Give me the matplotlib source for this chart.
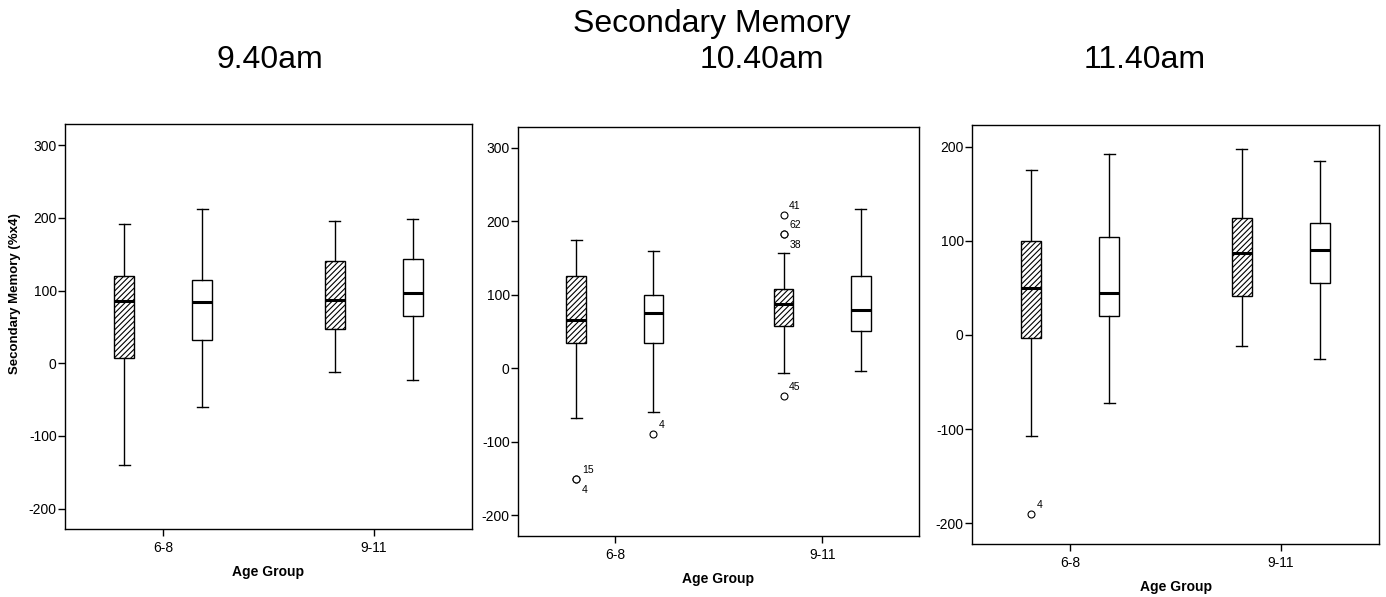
import matplotlib
matplotlib.use("Agg")
import matplotlib.pyplot as plt

plt.rcParams["font.family"] = ["Liberation Sans", "DejaVu Sans"]
plt.rcParams["hatch.linewidth"] = 0.8
plt.rcParams["axes.unicode_minus"] = False

# data: five-number summaries [whislo, q1, median, q3, whishi] per age group
groups = ["6-8", "9-11"]
times = ["9.40am", "10.40am", "11.40am"]

s940_hatched = [[-140, 7, 86, 120, 192], [-12, 47, 87, 140, 196]]
s940_plain = [[-60, 32, 84, 115, 212], [-23, 65, 96, 144, 198]]
s1040_hatched = [[-67, 35, 65, 125, 175], [-7, 58, 87, 108, 157]]
s1040_plain = [[-59, 35, 75, 99, 160], [-4, 50, 79, 126, 217]]
s1140_hatched = [[-107, -3, 50, 100, 175], [-12, 41, 87, 124, 197]]
s1140_plain = [[-72, 20, 45, 104, 192], [-25, 55, 90, 119, 185]]

# outliers (value, case label)
o940_hatched = [[], []]
o940_plain = [[], []]
o1040_hatched = [[(-151, "15"), (-151, "4")], [(209, "41"), (183, "62"), (183, "38"), (-38, "45")]]
o1040_plain = [[(-90, "4")], []]
o1140_hatched = [[(-190, "4")], []]
o1140_plain = [[], []]

panels = [
    (s940_hatched, s940_plain, o940_hatched, o940_plain, (-228, 329), [-200, -100, 0, 100, 200, 300]),
    (s1040_hatched, s1040_plain, o1040_hatched, o1040_plain, (-228, 328), [-200, -100, 0, 100, 200, 300]),
    (s1140_hatched, s1140_plain, o1140_hatched, o1140_plain, (-222, 223), [-200, -100, 0, 100, 200]),
]

W, H = 1386, 597
# axes boxes in pixels: left, top, right, bottom
boxes_px = [(65, 124, 472, 529), (518, 127, 919, 536), (972, 125, 1379, 544)]

fig = plt.figure(figsize=(W / 100, H / 100), dpi=100)


def make_stats(summ, outs):
    st = []
    for s, o in zip(summ, outs):
        st.append(dict(whislo=s[0], q1=s[1], med=s[2], q3=s[3], whishi=s[4],
                       fliers=[v for v, _ in o]))
    return st


off = 0.186
for k, (sh, sp, oh, op, ylim, yt) in enumerate(panels):
    l, t, r, b = boxes_px[k]
    ax = fig.add_axes([l / W, 1 - b / H, (r - l) / W, (b - t) / H])
    common = dict(widths=0.095, capwidths=0.052, patch_artist=True,
                  medianprops=dict(color="black", lw=2.2),
                  whiskerprops=dict(color="black", lw=1),
                  capprops=dict(color="black", lw=1),
                  flierprops=dict(marker="o", mfc="white", mec="black", ms=5, mew=0.8))
    xh = [i - off for i in range(len(groups))]
    xp = [i + off for i in range(len(groups))]
    ax.bxp(make_stats(sh, oh), positions=xh,
           boxprops=dict(facecolor="white", edgecolor="black", hatch="//////", lw=1), **common)
    ax.bxp(make_stats(sp, op), positions=xp,
           boxprops=dict(facecolor="white", edgecolor="black", lw=1), **common)

    # case labels next to outliers
    for xs, outs in ((xh, oh), (xp, op)):
        for x, o in zip(xs, outs):
            seen = {}
            for v, lab in o:
                n = seen.get(v, 0)
                seen[v] = n + 1
                dy = 6.5 if n == 0 else -8
                ax.annotate(lab, (x, v), xytext=(4, dy), textcoords="offset points",
                            fontsize=7.5, ha="left", va="center")

    ax.set_xlim(-0.467, 1.467)
    ax.set_ylim(*ylim)
    ax.set_yticks(yt)
    ax.set_xticks(range(len(groups)))
    ax.set_xticklabels(groups)
    ax.tick_params(direction="out", length=5, width=1, labelsize=10, colors="black")
    ax.tick_params(axis="y", pad=1)
    for sp_ in ax.spines.values():
        sp_.set_linewidth(1)
    ax.set_xlabel("Age Group", fontsize=10, fontweight="bold", labelpad=7)

fig.text(15 / W, 1 - 294 / H, "Secondary Memory (%x4)", rotation=90, ha="center",
         va="center", fontsize=9.5, fontweight="bold")

fig.text(712 / W, 1 - 24 / H, "Secondary Memory", ha="center", va="center", fontsize=23)
for x, tl in zip([270, 762, 1145], times):
    fig.text(x / W, 1 - 60 / H, tl, ha="center", va="center", fontsize=23)

fig.savefig("out.png", dpi=100, facecolor="white")
